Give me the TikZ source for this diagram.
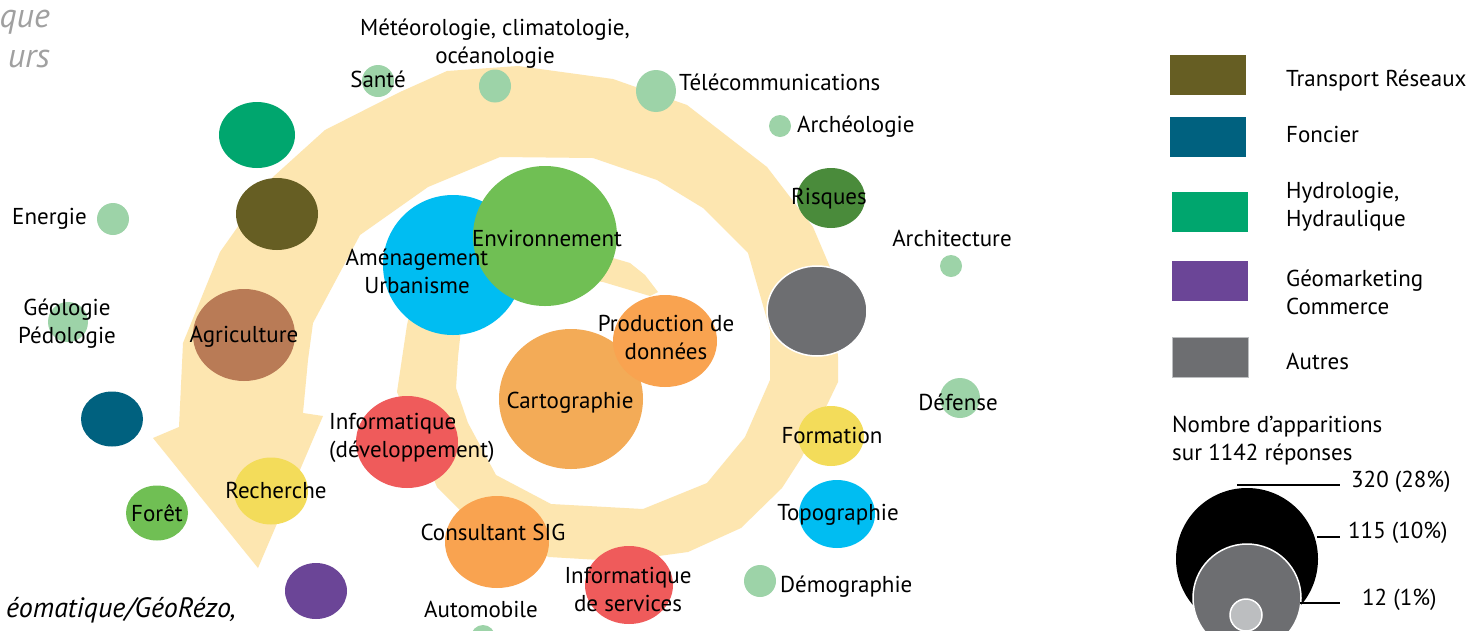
\documentclass[tikz,border=0pt]{standalone}
\usepackage{fontspec}
\setmainfont{PT Sans}
\usetikzlibrary{shapes.geometric}
\definecolor{band}{HTML}{FDE6B0}
\definecolor{lgreen}{HTML}{9DD3A8}
\definecolor{hydro}{HTML}{00A66E}
\definecolor{transp}{HTML}{665E23}
\definecolor{agri}{HTML}{B97B56}
\definecolor{foncier}{HTML}{00617F}
\definecolor{foret}{HTML}{70BF54}
\definecolor{yellowc}{HTML}{F3DC5A}
\definecolor{purplec}{HTML}{6B4597}
\definecolor{bluec}{HTML}{00BDF2}
\definecolor{envc}{HTML}{70BF54}
\definecolor{orangec}{HTML}{F9A350}
\definecolor{cartoc}{HTML}{F3AB57}
\definecolor{redc}{HTML}{EF5B5B}
\definecolor{risqc}{HTML}{4A8B3B}
\definecolor{greyc}{HTML}{6D6E71}
\definecolor{lgreyc}{HTML}{BCBEC0}
\definecolor{titlegrey}{HTML}{A0A0A0}
\begin{document}
\begin{tikzpicture}[x=1pt,y=-1pt,
  blob/.style={ellipse, inner sep=0pt, outer sep=0pt, draw=none},
  lab/.style={inner sep=0pt, font=\fontsize{23}{28}\selectfont, text height=19pt, text depth=2pt},
  mlab/.style={inner sep=0pt, font=\fontsize{23}{28}\selectfont, align=center},
  legbox/.style={inner sep=0pt, minimum width=76pt, minimum height=40pt},
  legline/.style={line width=2.5pt}]
\useasboundingbox (0,0) rectangle (1468,630);
\fill[white] (0,0) rectangle (1468,630);

% spiral band
\fill[band] (650,296) -- (603,282) -- (540,275) -- (480,290) -- (462,320) -- (458,357)
  -- (456,388) -- (468,423) -- (496,475) -- (551,504) -- (643,509) -- (707,483)
  -- (745,437) -- (770,380) -- (770,330) -- (748,253) -- (703,208) -- (657,180)
  -- (593,158) -- (500,157) -- (428,187) -- (360,235) -- (313,323) -- (308,360)
  -- (303,413) -- (323,416) -- (258,568) -- (153,438) -- (179,427) -- (183,343)
  -- (220,252) -- (273,177) -- (325,130) -- (400,92) -- (447,71) -- (518,66)
  -- (613,79) -- (687,105) -- (767,167) -- (813,227) -- (830,267) -- (838,357)
  -- (838,382) -- (802,457) -- (782,488) -- (741,528) -- (688,552) -- (644,558)
  -- (600,560) -- (549,557) -- (480,530) -- (437,487) -- (397,392) -- (407,325)
  -- (415,290) -- (440,240) -- (500,215) -- (560,225) -- (613,258) -- (630,263)
  -- (645,275) -- (658,292) -- cycle;

% small light green dots
\node[blob, fill=lgreen, minimum width=32pt, minimum height=32pt] (dsante) at (378,81) {};
\node[blob, fill=lgreen, minimum width=32pt, minimum height=33pt] (dmeteo) at (495,86) {};
\node[blob, fill=lgreen, minimum width=40pt, minimum height=42pt] (dtele) at (656,91) {};
\node[blob, fill=lgreen, minimum width=22pt, minimum height=22pt] (darch) at (780,126) {};
\node[blob, fill=lgreen, minimum width=22pt, minimum height=22pt] (darchi) at (951,266) {};
\node[blob, fill=lgreen, minimum width=32pt, minimum height=32pt] (dener) at (113,219) {};
\node[blob, fill=lgreen, minimum width=40pt, minimum height=40pt] (dgeol) at (68,322) {};
\node[blob, fill=lgreen, minimum width=40pt, minimum height=40pt] (ddef) at (960,398) {};
\node[blob, fill=lgreen, minimum width=32pt, minimum height=32pt] (ddemo) at (760,581) {};
\node[blob, fill=lgreen, minimum width=24pt, minimum height=24pt] (dauto) at (483,637) {};

% coloured circles
\node[blob, fill=hydro, minimum width=76pt, minimum height=66pt] (chydro) at (257,135) {};
\node[blob, fill=transp, minimum width=82pt, minimum height=72pt] (ctransp) at (277,214) {};
\node[blob, fill=agri, minimum width=102pt, minimum height=92pt] (cagri) at (244,335) {};
\node[blob, fill=foncier, minimum width=62pt, minimum height=55pt] (cfonc) at (112,419) {};
\node[blob, fill=foret, minimum width=62pt, minimum height=55pt] (cforet) at (157,513) {};
\node[blob, fill=yellowc, minimum width=74pt, minimum height=67pt] (crech) at (271,491) {};
\node[blob, fill=purplec, minimum width=62pt, minimum height=56pt] (cgeom) at (316,591) {};
\node[blob, fill=bluec, minimum width=140pt, minimum height=140pt] (camen) at (453,265) {};
\node[blob, fill=envc, minimum width=144pt, minimum height=140pt] (cenv) at (545,236) {};
\node[blob, fill=cartoc, minimum width=144pt, minimum height=140pt] (ccarto) at (571,399) {};
\node[blob, fill=orangec, minimum width=104pt, minimum height=92pt] (cprod) at (665,341) {};
\node[blob, fill=redc, minimum width=102pt, minimum height=92pt] (cinfod) at (407,442) {};
\node[blob, fill=orangec, minimum width=104pt, minimum height=92pt] (ccons) at (497,542) {};
\node[blob, fill=redc, minimum width=88pt, minimum height=78pt] (cinfos) at (629,585) {};
\node[blob, fill=risqc, minimum width=68pt, minimum height=60pt] (crisq) at (831,198) {};
\node[blob, fill=greyc, draw=white, line width=1.5pt, minimum width=100pt, minimum height=90pt] (cautres) at (817,311) {};
\node[blob, fill=yellowc, minimum width=66pt, minimum height=60pt] (cform) at (831,436) {};
\node[blob, fill=bluec, minimum width=76pt, minimum height=68pt] (ctopo) at (837,514) {};

% labels
\node[mlab] (tmeteo) at (495,44) {Météorologie, climatologie,\\océanologie};
\node[lab] (tsante) at (378,79) {Santé};
\node[lab, anchor=west] (ttele) at (679,82) {Télécommunications};
\node[lab, anchor=west] (tarch) at (797,124) {Archéologie};
\node[lab] (trisq) at (829,196) {Risques};
\node[lab] (tarchi) at (952,238) {Architecture};
\node[lab, anchor=east] (tener) at (87,216) {Energie};
\node[mlab] (tgeol) at (67,324) {Géologie\\Pédologie};
\node[mlab] (tamen) at (417,271) {Aménagement\\Urbanisme};
\node[lab] (tenv) at (547,238) {Environnement};
\node[lab] (tagri) at (244,334) {Agriculture};
\node[mlab] (tprod) at (666,337) {Production de\\données};
\node[lab] (tcarto) at (570,400) {Cartographie};
\node[mlab, align=left, anchor=west] (tinfod) at (329,438) {Informatique\\(développement)};
\node[lab] (tdef) at (958,402) {Défense};
\node[lab] (tform) at (832,435) {Formation};
\node[lab] (trech) at (276,490) {Recherche};
\node[lab] (tforet) at (157,513) {Forêt};
\node[lab] (ttopo) at (838,512) {Topographie};
\node[lab] (tcons) at (493,532) {Consultant SIG};
\node[mlab] (tinfos) at (628,589) {Informatique\\de services};
\node[lab, anchor=west] (tdemo) at (780,584) {Démographie};
\node[lab] (tauto) at (481,609) {Automobile};

% title fragments
\node[inner sep=0pt, anchor=base east, font=\fontsize{34}{40}\selectfont\itshape, text=titlegrey] (ttitle1) at (50,27) {que};
\node[inner sep=0pt, anchor=base east, font=\fontsize{34}{40}\selectfont\itshape, text=titlegrey] (ttitle2) at (50,67) {urs};
\node[inner sep=0pt, anchor=base east, font=\fontsize{28}{30}\selectfont\itshape] (tsource) at (236,617) {éomatique/GéoRézo,};

% legend
\node[legbox, fill=transp] (ltransp) at (1208,75) {};
\node[legbox, fill=foncier] (lfonc) at (1208,137) {};
\node[legbox, fill=hydro] (lhydro) at (1209.5,212) {};
\node[legbox, fill=purplec] (lgeom) at (1209.5,281) {};
\node[legbox, fill=greyc, draw=lgreyc, line width=0.8pt] (lautres) at (1210.5,357) {};
\node[lab, anchor=west] (tltransp) at (1286,78) {Transport Réseaux};
\node[lab, anchor=west] (tlfonc) at (1286,134) {Foncier};
\node[mlab, align=left, anchor=west] (tlhydro) at (1286,207) {Hydrologie,\\Hydraulique};
\node[mlab, align=left, anchor=west] (tlgeom) at (1286,292) {Géomarketing\\Commerce};
\node[lab, anchor=west] (tlautres) at (1286,361) {Autres};
\node[mlab, align=left, anchor=west] (tlnombre) at (1172,441) {Nombre d’apparitions\\sur 1142 réponses};

\node[blob, fill=black, minimum width=142pt, minimum height=142pt] (lbig) at (1247,559) {};
\node[blob, fill=greyc, draw=white, line width=1.5pt, minimum width=108pt, minimum height=108pt] (lmid) at (1247,598) {};
\node[blob, fill=lgreyc, draw=white, line width=1.5pt, minimum width=32pt, minimum height=32pt] (lsmall) at (1246,615) {};

\node[lab, anchor=west] (tl320) at (1351,479) {320 (28\%)};
\node[lab, anchor=west] (tl115) at (1348,530) {115 (10\%)};
\node[lab, anchor=west] (tl12) at (1362,597) {12 (1\%)};
\coordinate (c320) at (1237,485);
\coordinate (c320e) at (1340,485);
\coordinate (c115) at (1317,537);
\coordinate (c115e) at (1340,537);
\coordinate (c12) at (1300,603);
\coordinate (c12e) at (1340,603);
\draw[legline] (c320) -- (c320e);
\draw[legline] (c115) -- (c115e);
\draw[legline] (c12) -- (c12e);
\end{tikzpicture}
\end{document}
